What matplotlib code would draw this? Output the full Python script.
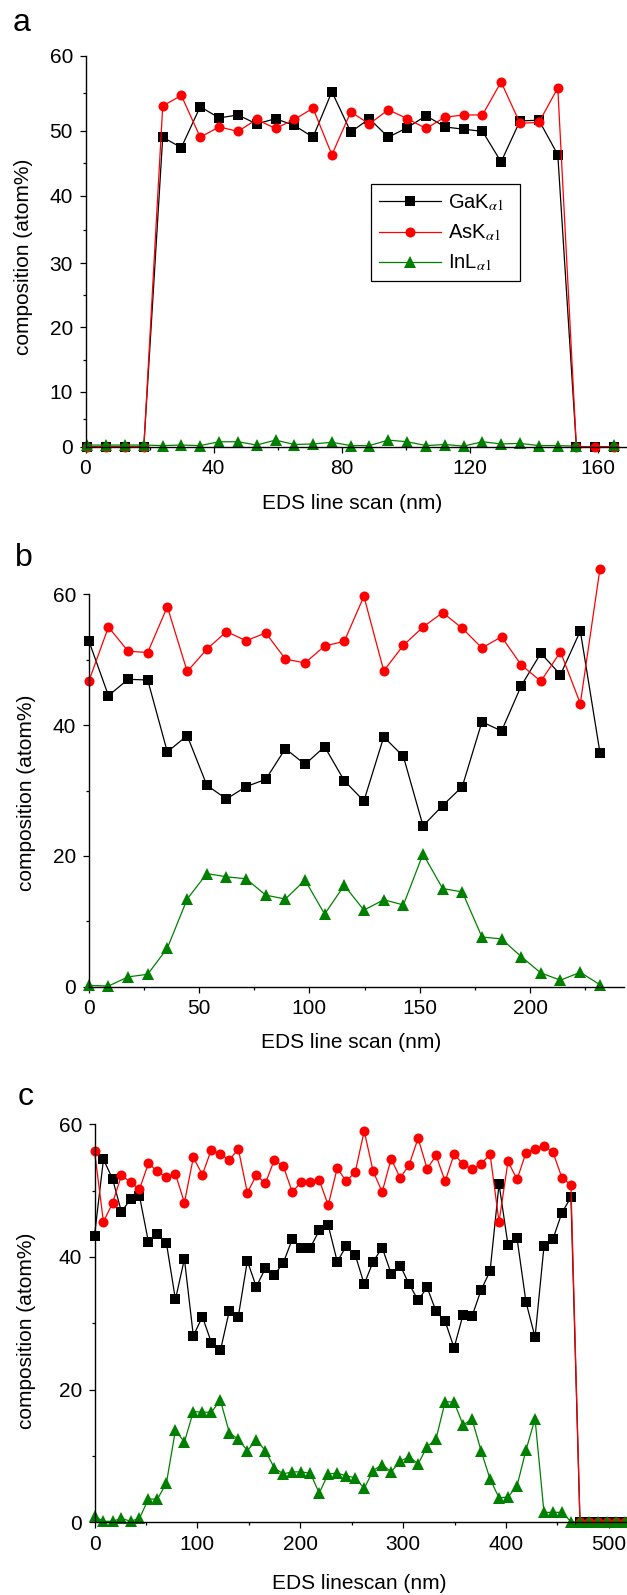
import numpy as np
import matplotlib
matplotlib.use("Agg")
import matplotlib.pyplot as plt
from matplotlib.ticker import MultipleLocator

plt.rcParams['font.family'] = ['Liberation Sans', 'DejaVu Sans']
plt.rcParams['mathtext.fontset'] = 'stix'

# ---- (a) line scan ----
x_a = [0.6, 6.5, 12.3, 18.2, 24.1, 29.9, 35.8, 41.7, 47.6, 53.4, 59.3, 65.2, 71.0, 76.9, 82.8,
       88.6, 94.5, 100.4, 106.3, 112.2, 118.0, 123.9, 129.7, 135.6, 141.5, 147.4, 153.2, 159.1, 165.0]
ga_a = [0, 0, 0, 0, 49.0, 47.4, 53.2, 51.7, 52.1, 50.9, 51.6, 50.7, 49.0, 55.2, 49.8,
        51.6, 49.0, 50.4, 52.0, 50.5, 50.2, 49.9, 45.2, 51.3, 51.4, 46.3, 0, 0, 0]
as_a = [0, 0, 0, 0, 53.3, 54.7, 49.0, 50.5, 49.9, 51.5, 50.3, 51.5, 53.0, 46.3, 52.5,
        50.9, 52.8, 51.6, 50.3, 51.8, 52.1, 52.1, 56.5, 51.0, 51.1, 55.7, 0, 0, 0]
in_a = [0.3, 0.3, 0.3, 0.3, 0.2, 0.3, 0.2, 0.9, 0.9, 0.3, 1.2, 0.4, 0.5, 0.8, 0.2,
        0.2, 1.2, 0.9, 0.2, 0.4, 0.1, 0.9, 0.5, 0.6, 0.2, 0.2, 0.1, np.nan, 0.3]

# panel a was exported with an uneven y axis: tick value -> height above the x axis (px)
ya_ticks = [-10, 0, 10, 20, 30, 40, 50, 60, 70]
ya_height = [-55.0, 0, 55.0, 119.4, 183.4, 251.0, 316.0, 391.0, 466.0]

# ---- (b) line scan ----
x_b = [0, 8.9, 17.8, 26.7, 35.6, 44.6, 53.5, 62.4, 71.3, 80.2, 89.1, 98.0, 106.9, 115.8,
       124.7, 133.7, 142.6, 151.5, 160.4, 169.3, 178.2, 187.1, 196.0, 204.9, 213.8, 222.8, 231.7]
ga_b = [52.9, 44.5, 47.0, 46.9, 35.9, 38.4, 30.8, 28.7, 30.6, 31.7, 36.4, 34.0, 36.7, 31.5,
        28.4, 38.2, 35.2, 24.6, 27.7, 30.6, 40.5, 39.1, 46.0, 51.0, 47.7, 54.4, 35.8]
as_b = [46.7, 55.0, 51.3, 51.1, 58.1, 48.2, 51.6, 54.3, 52.9, 54.1, 50.1, 49.5, 52.1, 52.8,
        59.7, 48.3, 52.2, 55.0, 57.2, 54.8, 51.8, 53.5, 49.2, 46.7, 51.2, 43.3, 63.9]
in_b = [0.2, 0.1, 1.5, 1.9, 5.9, 13.4, 17.3, 16.8, 16.5, 14.0, 13.4, 16.3, 11.1, 15.5,
        11.7, 13.3, 12.5, 20.3, 15.0, 14.5, 7.6, 7.3, 4.6, 2.1, 1.0, 2.2, 0.3]

# ---- (c) line scan ----
x_c = [0, 8.7, 17.5, 26.2, 35.0, 43.7, 52.4, 61.2, 69.9, 78.7, 87.4, 96.1, 104.9, 113.6, 122.4,
       131.1, 139.8, 148.6, 157.3, 166.1, 174.8, 183.5, 192.3, 201.0, 209.8, 218.5, 227.2, 236.0,
       244.7, 253.5, 262.2, 270.9, 279.7, 288.4, 297.2, 305.9, 314.6, 323.4, 332.1, 340.9, 349.6,
       358.3, 367.1, 375.8, 384.6, 393.3, 402.0, 410.8, 419.5, 428.3, 437.0, 445.7, 454.5, 463.2,
       472.0, 480.7, 489.4, 498.2, 506.9, 515.7]
ga_c = [43.2, 54.7, 51.8, 46.8, 48.7, 49.2, 42.3, 43.5, 42.1, 33.6, 39.7, 28.1, 31.0, 27.1, 25.9,
        31.9, 31.0, 39.4, 35.5, 38.3, 37.3, 39.1, 42.7, 41.3, 41.4, 44.0, 44.8, 39.3, 41.6, 40.3,
        35.9, 39.3, 41.4, 37.5, 38.7, 35.9, 33.5, 35.4, 31.8, 30.3, 26.3, 31.3, 31.1, 35.0, 37.9,
        51.0, 41.8, 42.8, 33.2, 27.9, 41.6, 42.7, 46.7, 49.0, 0, 0, 0, 0, 0, 0]
as_c = [56.0, 45.3, 48.1, 52.3, 51.3, 50.2, 54.1, 52.9, 52.0, 52.5, 48.2, 55.0, 52.4, 56.2, 55.5,
        54.6, 56.3, 49.7, 52.3, 51.1, 54.6, 53.7, 49.8, 51.3, 51.3, 51.6, 47.8, 53.4, 51.4, 52.8,
        59.0, 52.9, 49.8, 54.8, 51.9, 53.9, 57.9, 53.3, 55.3, 51.4, 55.5, 54.0, 53.2, 54.0, 55.5,
        45.3, 54.4, 51.7, 55.7, 56.3, 56.8, 55.8, 51.9, 50.9, 0, 0, 0, 0, 0, 0]
in_c = [0.9, 0.15, 0.15, 0.6, 0.15, 0.6, 3.5, 3.5, 5.9, 13.9, 12.1, 16.7, 16.6, 16.6, 18.4,
        13.5, 12.5, 10.8, 12.4, 10.8, 8.2, 7.3, 7.6, 7.6, 7.4, 4.4, 7.3, 7.4, 7.0, 6.7,
        5.1, 7.8, 8.7, 7.6, 9.2, 9.9, 8.8, 11.4, 12.6, 18.2, 18.1, 14.7, 15.5, 10.8, 6.5,
        3.7, 3.8, 5.5, 10.9, 15.6, 1.5, 1.5, 1.5, 0.1, 0, 0, 0, 0, 0, 0]

# trailing spaces leave some room on the right side of the legend box
labels = [r'GaK$_{\alpha 1}$  ', r'AsK$_{\alpha 1}$  ', r'InL$_{\alpha 1}$  ']

W, H = 627, 1595
fig = plt.figure(figsize=(W / 100, H / 100), dpi=100)


def make_axes(left, right, top, bottom):
    # pixel box -> figure fraction
    return fig.add_axes([left / W, 1 - bottom / H, (right - left) / W, (bottom - top) / H])


def style(ax, xmax, xmaj, xmin, ymaj, ymin, xlabel, xlab_pos, ylab_pos):
    ax.set_xlim(0, xmax)
    ax.set_ylim(0, 60)
    ax.xaxis.set_major_locator(MultipleLocator(xmaj))
    ax.xaxis.set_minor_locator(MultipleLocator(xmin))
    ax.yaxis.set_major_locator(MultipleLocator(ymaj))
    ax.yaxis.set_minor_locator(MultipleLocator(ymin))
    for s in ['top', 'right']:
        ax.spines[s].set_visible(False)
    for s in ['left', 'bottom']:
        ax.spines[s].set_linewidth(1.0)
    ax.tick_params(which='major', direction='out', length=4, width=0.9, labelsize=15, pad=5)
    ax.tick_params(which='minor', direction='out', length=2, width=0.9)
    ax.set_xlabel(xlabel, fontsize=15, va='center')
    ax.xaxis.set_label_coords(*xlab_pos)
    ax.set_ylabel('composition (atom%)', fontsize=15, va='center')
    ax.yaxis.set_label_coords(*ylab_pos)


def draw(ax, x, ga, as_, inl):
    kw = dict(lw=0.9, mew=0, clip_on=False)
    ax.plot(x, ga, '-s', color='black', ms=6.8, label=labels[0], **kw)
    ax.plot(x, as_, '-o', color='red', ms=7.2, label=labels[1], **kw)
    ax.plot(x, inl, '-^', color='#008000', ms=8.5, label=labels[2], **kw)


ax_a = make_axes(85.5, 627, 55.7, 446.7)
ax_a.set_yscale('function', functions=(lambda v: np.interp(v, ya_ticks, ya_height),
                                       lambda h: np.interp(h, ya_height, ya_ticks)))
draw(ax_a, x_a, ga_a, as_a, in_a)
style(ax_a, 169, 40, 20, 10, 5, 'EDS line scan (nm)', (0.493, -0.144), (-0.114, 0.486))
leg = ax_a.legend(loc='upper left', bbox_to_anchor=(0.527, 0.671), borderaxespad=0,
                  fontsize=14.5, numpoints=1, handlelength=3.1, handletextpad=0.35,
                  labelspacing=0.47, borderpad=0.4, fancybox=False, framealpha=1)
leg.get_frame().set_edgecolor('black')
leg.get_frame().set_linewidth(0.9)

ax_b = make_axes(88.8, 624, 594.3, 986.7)
draw(ax_b, x_b, ga_b, as_b, in_b)
style(ax_b, 242.6, 50, 25, 20, 10, 'EDS line scan (nm)', (0.4905, -0.143), (-0.117, 0.494))

ax_c = make_axes(94.5, 627, 1124.3, 1522.3)
draw(ax_c, x_c, ga_c, as_c, in_c)
style(ax_c, 517.7, 100, 50, 20, 10, 'EDS linescan (nm)', (0.497, -0.153), (-0.1286, 0.482))

for letter, (px, py) in zip('abc', [(22, 23), (24, 558), (26, 1097)]):
    fig.text(px / W, 1 - py / H, letter, fontsize=23, ha='center', va='center')

fig.savefig('out.png', dpi=100)
